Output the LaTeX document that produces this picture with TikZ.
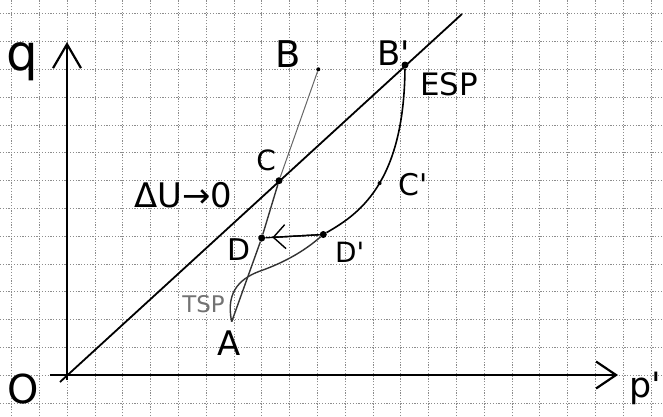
\documentclass[tikz,border=0pt]{standalone}
\usepackage{fontspec}
\newfontfamily\hand{DejaVu Sans}
\usetikzlibrary{arrows.meta}
\begin{document}
\begin{tikzpicture}[x=1bp,y=1bp,
  gridline/.style={black!45, line width=0.5bp, dash pattern=on 1.2bp off 1.6bp},
  axis/.style={line width=2.2bp, black},
  dot/.style={circle, fill=black, inner sep=0pt, minimum size=7bp},
  smalldot/.style={circle, fill=black, inner sep=0pt, minimum size=4bp},
  lbl/.style={font=\hand\fontsize{#1}{#1}\selectfont, anchor=base, inner sep=0pt},
  path1/.style={line width=1.4bp, black!80},
  path2/.style={line width=1bp, black!60},
]
\useasboundingbox (-67,-41) rectangle (596,375);
% grid
\foreach \k in {-2,...,21} \draw[gridline] (\k*27.8,-41) -- (\k*27.8,375);
\foreach \k in {-1,...,13} \draw[gridline] (-67,\k*27.8) -- (596,\k*27.8);

% axes
\coordinate (O) at (0,0);
\coordinate (vstart) at (0,-5);
\coordinate (vtip) at (0,333);
\coordinate (hstart) at (-17,0);
\coordinate (htip) at (551,0);
\coordinate (dstart) at (-7,-7);
\coordinate (dend) at (395,361);
\draw[axis, -{Straight Barb[length=24bp,width=28bp]}] (vstart) -- (vtip);
\draw[axis, -{Straight Barb[length=20bp,width=27bp]}] (hstart) -- (htip);
\draw[line width=1.8bp] (dstart) -- (dend);

% points
\coordinate (A) at (164.7,53.3);
\node[dot] (D) at (194.7,137) {};
\node[dot] (C) at (212,194.3) {};
\node[smalldot] (B) at (251.3,305.7) {};
\node[dot] (Bp) at (338,310) {};
\node[dot] (Dp) at (256.3,140.5) {};

% stress paths
\draw[path1] (A) -- (D) -- (C);
\draw[path2] (C) -- (B);
\draw[line width=1.6bp] (Bp) .. controls (337,190) and (290,160) .. coordinate[pos=0.47] (Cpd) (Dp);
\node[smalldot] (Cdot) at (Cpd) {};
\draw[path1] (A) .. controls (158,85) and (175,98) .. (196,105)
   .. controls (215,112) and (235,122) .. (Dp);
\draw[line width=1.4bp] (Dp) -- (D);
\draw[line width=1.4bp, -{Straight Barb[length=12bp,width=24bp]}, shorten >=7bp] (Dp) -- (D);

% labels
\node[lbl=50] (lq) at (-45,305) {q};
\node[lbl=40] (lO) at (-44,-28) {O};
\node[lbl=35, anchor=base west] (lp) at (562,-22) {p'};
\node[lbl=37] (lB) at (221,308) {B};
\node[lbl=34, anchor=base west] (lBp) at (310,310) {B'};
\node[lbl=31, anchor=base west] (lESP) at (353,280) {ESP};
\node[lbl=28] (lC) at (199,205) {C};
\node[lbl=30, anchor=base west] (lCp) at (331,180) {C'};
\node[lbl=34] (ldU) at (116.5,168) {ΔU→0};
\node[lbl=30] (lD) at (172,115) {D};
\node[lbl=28, anchor=base west] (lDp) at (268,113) {D'};
\node[lbl=34] (lA) at (162,20) {A};
\node[lbl=23, text=black!55] (lTSP) at (136.5,63) {TSP};
\end{tikzpicture}
\end{document}
